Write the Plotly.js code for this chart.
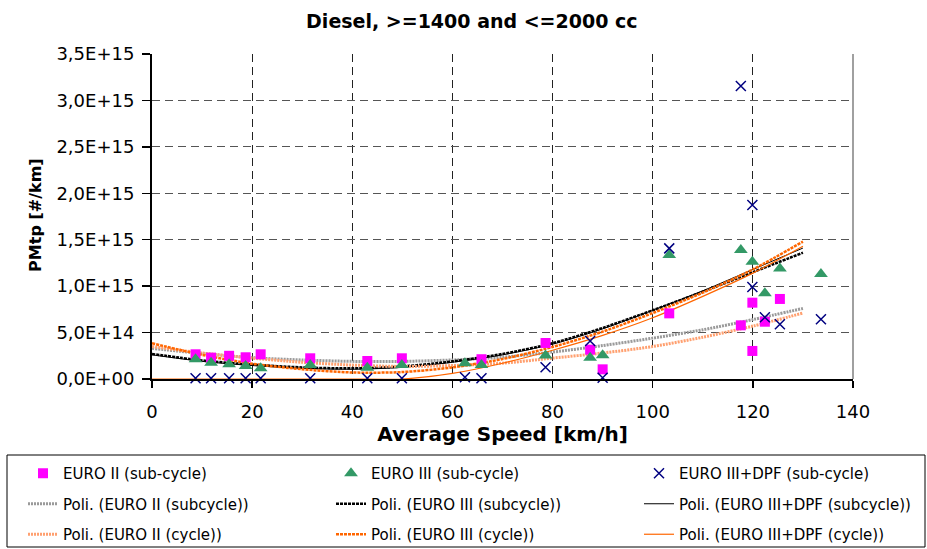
<!DOCTYPE html>
<html>
<head>
<meta charset="utf-8">
<script src="https://cdn.plot.ly/plotly-3.0.1.min.js"></script>
<style>html,body{margin:0;padding:0;background:#fff;}#chart{width:927px;height:549px;}</style>
</head>
<body>
<div id="chart"></div>
<script>
// ---- data (PMtp in #/km) ----
const speedsEuro2 = [8.7, 11.8, 15.4, 18.7, 21.7, 31.6, 43.0, 49.9, 65.8, 78.6, 87.5, 90.0, 103.3, 117.6, 119.9, 119.9, 122.4, 125.4];
const valuesEuro2 = [2.66e14, 2.30e14, 2.50e14, 2.34e14, 2.66e14, 2.23e14, 1.94e14, 2.23e14, 2.13e14, 3.88e14, 3.16e14, 1.04e14, 7.07e14, 5.78e14, 8.22e14, 3.02e14, 6.17e14, 8.62e14];

const speedsEuro3 = [8.7, 11.8, 15.4, 18.7, 21.7, 31.6, 43.0, 49.9, 62.5, 65.8, 78.6, 87.5, 90.0, 103.3, 117.6, 119.9, 122.4, 125.4, 133.6];
const valuesEuro3 = [2.12e14, 1.76e14, 1.58e14, 1.40e14, 1.15e14, 1.50e14, 1.22e14, 1.51e14, 1.69e14, 1.51e14, 2.53e14, 2.28e14, 2.55e14, 1.335e15, 1.389e15, 1.263e15, 9.23e14, 1.19e15, 1.131e15];

const speedsDpf = [8.7, 11.8, 15.4, 18.7, 21.7, 31.6, 43.0, 49.9, 62.5, 65.8, 78.6, 87.5, 90.0, 103.3, 117.6, 119.9, 119.9, 122.4, 125.4, 133.6];
const valuesDpf = [8e12, 8e12, 8e12, 8e12, 8e12, 8e12, 8e12, 8e12, 1.8e13, 8e12, 1.27e14, 4.1e14, 1.4e13, 1.407e15, 3.155e15, 1.874e15, 9.9e14, 6.64e14, 5.9e14, 6.43e14];

// trend lines (polynomial fits)
const trendSpeeds = [0, 10, 20, 30, 40, 50, 60, 70, 80, 90, 100, 110, 120, 130];
const polyEuro2Sub = [3.30e14, 2.75e14, 2.30e14, 2.05e14, 1.90e14, 1.90e14, 2.05e14, 2.35e14, 2.90e14, 3.60e14, 4.40e14, 5.30e14, 6.40e14, 7.60e14];
const polyEuro3Sub = [2.70e14, 2.00e14, 1.55e14, 1.25e14, 1.15e14, 1.35e14, 1.90e14, 2.70e14, 3.85e14, 5.50e14, 7.40e14, 9.40e14, 1.15e15, 1.36e15];
const polyDpfSub   = [2.60e14, 1.90e14, 1.45e14, 1.15e14, 1.05e14, 1.25e14, 1.80e14, 2.60e14, 3.75e14, 5.40e14, 7.40e14, 9.50e14, 1.18e15, 1.41e15];
const polyEuro2Cyc = [3.50e14, 2.80e14, 2.25e14, 1.80e14, 1.50e14, 1.35e14, 1.45e14, 1.70e14, 2.25e14, 2.80e14, 3.50e14, 4.50e14, 5.70e14, 7.10e14];
const polyEuro3Cyc = [3.85e14, 2.60e14, 1.65e14, 1.05e14, 7.0e13, 7.5e13, 1.25e14, 2.15e14, 3.45e14, 5.10e14, 7.10e14, 9.30e14, 1.18e15, 1.48e15];
const polyDpfCyc   = [0, 0, 0, 0, 0, 0, 6.0e13, 1.70e14, 3.10e14, 4.70e14, 6.60e14, 8.90e14, 1.14e15, 1.43e15];

const yTickVals = [0, 5e14, 1e15, 1.5e15, 2e15, 2.5e15, 3e15, 3.5e15];
const yTickText = ['0,0E+00', '5,0E+14', '1,0E+15', '1,5E+15', '2,0E+15', '2,5E+15', '3,0E+15', '3,5E+15'];

const names = {
  e2: 'EURO II (sub-cycle)', e3: 'EURO III (sub-cycle)', dpf: 'EURO III+DPF (sub-cycle)',
  pe2s: 'Poli. (EURO II (subcycle))', pe3s: 'Poli. (EURO III (subcycle))', pdpfs: 'Poli. (EURO III+DPF (subcycle))',
  pe2c: 'Poli. (EURO II (cycle))', pe3c: 'Poli. (EURO III (cycle))', pdpfc: 'Poli. (EURO III+DPF (cycle))'
};
const yTitle = 'PMtp [#/km]';

const FONT = 'DejaVu Sans, Arial, sans-serif';

function lineTrace(y, name, color, width, dash, legend, group) {
  return {x: trendSpeeds, y: y, name: name, type: 'scatter', mode: 'lines',
    line: {color: color, width: width, dash: dash, shape: 'spline', smoothing: 0.8},
    legend: legend, legendgroup: group, legendrank: 2, hoverinfo: 'skip'};
}

const data = [
  lineTrace(polyEuro2Sub, names.pe2s, '#9a9a9a', 3, '2px,1px', 'legend', 'g2a'),
  lineTrace(polyEuro3Sub, names.pe3s, '#000000', 2.5, '3px,1px', 'legend2', 'g2b'),
  lineTrace(polyDpfSub, names.pdpfs, '#000000', 1, 'solid', 'legend3', 'g2c'),
  lineTrace(polyEuro2Cyc, names.pe2c, '#ffa070', 3, '2px,1px', 'legend', 'g3a'),
  lineTrace(polyEuro3Cyc, names.pe3c, '#ff6600', 2.5, '3px,1px', 'legend2', 'g3b'),
  lineTrace(polyDpfCyc, names.pdpfc, '#ff6600', 1.2, 'solid', 'legend3', 'g3c'),
  {x: speedsEuro2, y: valuesEuro2, name: names.e2, type: 'scatter', mode: 'markers', cliponaxis: false,
   marker: {symbol: 'square', size: 10, color: '#ff00ff'}, legend: 'legend', legendgroup: 'g1a', legendrank: 1},
  {x: speedsEuro3, y: valuesEuro3, name: names.e3, type: 'scatter', mode: 'markers', cliponaxis: false,
   marker: {symbol: 'triangle-up', size: 12, color: '#339966'}, legend: 'legend2', legendgroup: 'g1b', legendrank: 1},
  {x: speedsDpf, y: valuesDpf, name: names.dpf, type: 'scatter', mode: 'markers', cliponaxis: false,
   marker: {symbol: 'x-thin-open', size: 10, color: '#000080', line: {color: '#000080', width: 1.5}}, legend: 'legend3', legendgroup: 'g1c', legendrank: 1}
];

function legendCol(xPix) {
  return {orientation: 'v', xref: 'container', yref: 'container', x: xPix / 927, xanchor: 'left',
    y: 1 - 457 / 549, yanchor: 'top', tracegroupgap: 8, bgcolor: 'rgba(0,0,0,0)', borderwidth: 0,
    font: {family: FONT, size: 15, color: '#000'}, traceorder: 'grouped'};
}

const layout = {
  width: 927, height: 549,
  margin: {l: 152, r: 74, t: 54, b: 170, autoexpand: false},
  paper_bgcolor: '#ffffff', plot_bgcolor: '#ffffff',
  font: {family: FONT, color: '#000'},
  title: {text: 'Diesel, >=1400 and <=2000 cc', font: {family: FONT, size: 19, weight: 'bold', color: '#000'},
    x: 0.509, xref: 'container', xanchor: 'center', y: 0.962, yref: 'container', yanchor: 'middle'},
  xaxis: {range: [0, 140], tick0: 0, dtick: 20, showgrid: true, gridcolor: '#222', griddash: '8px,5px', gridwidth: 1,
    showline: true, linecolor: '#000', linewidth: 2, ticks: 'outside', ticklen: 7, tickwidth: 1.5, tickcolor: '#000',
    zeroline: false, tickfont: {family: FONT, size: 18, color: '#000'}, ticklabelstandoff: 8,
    title: {text: 'Average Speed [km/h]', font: {family: FONT, size: 20, weight: 'bold', color: '#000'}, standoff: 0}},
  yaxis: {range: [0, 3.5e15], tickvals: yTickVals, ticktext: yTickText, showgrid: true, gridcolor: '#555', griddash: '8px,5px', gridwidth: 1,
    showline: true, linecolor: '#000', linewidth: 2, ticks: 'outside', ticklen: 8, tickwidth: 1.5, tickcolor: '#000',
    zeroline: false, tickfont: {family: FONT, size: 18, color: '#000'}, ticklabelstandoff: 4},
  annotations: [
    {text: yTitle, xref: 'paper', yref: 'paper', x: (36 - 152) / 701, y: 0.505, xanchor: 'center', yanchor: 'middle',
     textangle: -90, showarrow: false, font: {family: FONT, size: 16, weight: 'bold', color: '#000'}}
  ],
  legend: legendCol(23),
  legend2: legendCol(331),
  legend3: legendCol(639),
  showlegend: true,
  shapes: [
    {type: 'line', xref: 'paper', yref: 'paper', x0: 1, x1: 1, y0: 0, y1: 1, line: {color: '#808080', width: 1.5}},
    {type: 'rect', xref: 'paper', yref: 'paper', x0: (7 - 152) / 701, x1: (925 - 152) / 701,
     y0: (379 - 547) / 325, y1: (379 - 455) / 325, line: {color: '#000', width: 1}, fillcolor: 'rgba(0,0,0,0)'}
  ]
};

Plotly.newPlot('chart', data, layout, {displayModeBar: false, staticPlot: true});
</script>
</body>
</html>
